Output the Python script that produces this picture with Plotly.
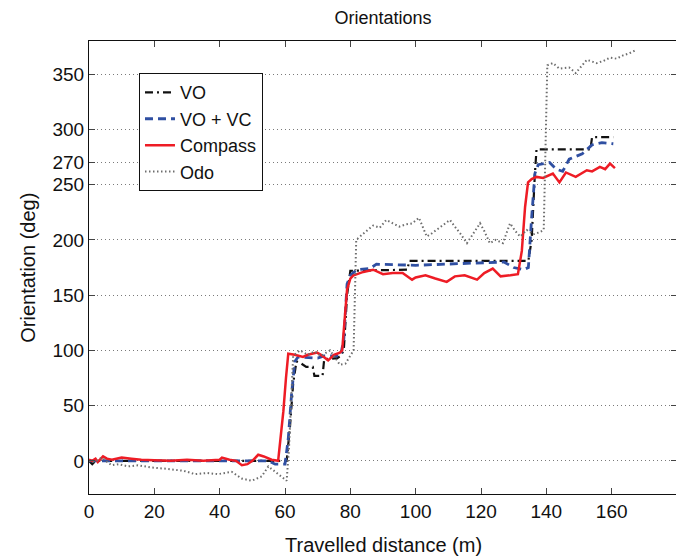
import plotly.graph_objects as go

# ---- data ----
vo_x = [0, 1, 2, 59, 60.5, 61.5, 62.5, 63.5, 65, 66.5, 68.5, 69, 71.5, 72, 76, 77, 78, 79, 80,
        97.5, 98, 134.5, 135.5, 136.5, 137, 153, 153.5, 154, 160.5]
vo_y = [0, -3, 0, 0, 0, 30, 70, 90, 88, 85, 85, 77, 77, 92, 93, 95, 100, 150, 172,
        173, 181, 181, 200, 260, 282, 282, 282, 293, 293]

vc_x = [0, 55, 57, 60, 61, 62, 63, 64, 70, 72, 77, 78, 79, 80, 82, 86, 88, 100, 127, 130, 133,
        134.5, 135.5, 136.5, 137.5, 141, 143, 145, 147, 151, 154, 157, 160.5]
vc_y = [0, 0, -3, -3, 20, 60, 90, 94, 93, 95, 95, 110, 160, 168, 173, 174, 178, 177, 180, 175, 173,
        175, 220, 260, 268, 270, 264, 262, 273, 278, 286, 288, 287]

compass_x = [0, 1, 2, 2.7, 4.3, 5.5, 7, 10, 13, 16, 20, 25, 30, 35, 40, 40.7, 43, 45, 46.8, 48.5,
             50, 51.8, 53.5, 55.9, 57.9, 58.5, 59.5, 60.3, 61, 63, 65.5, 67, 69.8, 71, 73.2, 75,
             76.8, 77.5, 78.2, 79, 80, 81, 84, 87, 90, 93, 96, 98.9, 100, 103, 106, 109.5, 112,
             115, 118.8, 121, 123.6, 126, 129, 131.3, 132.5, 133.5, 134.4, 135.5, 137, 139, 142,
             144, 146, 149, 152.4, 154, 156.4, 158, 159.5, 161]
compass_y = [1, 0, 2, -1, 4, 2, 1, 3, 2, 1, 0.5, 0, 1, 0, 1, 3, 1, 0, -4, -3,
             0, 5.5, 4, 1, 0, 15, 45, 75, 97, 96, 94, 96, 98, 96, 91, 96,
             98, 100, 130, 155, 165, 168, 171, 173, 169, 170, 170, 164, 166, 168, 165, 162, 167,
             168, 164, 170, 174, 167, 168, 169, 190, 230, 252, 255, 257, 256, 260,
             252, 261, 257, 263, 262, 266, 264, 269, 265]

odo_x = [0, 1.8, 3.9, 6.9, 9, 12, 15, 19, 23, 26.3, 29, 32.4, 36, 39.5, 43.7, 46.7, 49.8, 52.9,
         54.9, 57.9, 60.5, 61.2, 62, 62.5, 64.6, 67, 69, 71, 73.8, 75.5, 76.8, 78.5, 80, 81,
         81.4, 81.8, 84.5, 87, 89, 91, 93, 95, 97, 99, 101, 103.4, 105, 107.4, 110.5, 112,
         113.6, 115.7, 117.5, 119.7, 121, 122.7, 124.5, 126.7, 128.9, 130.5, 132, 134, 136,
         138, 139.2, 139.8, 140.3, 142, 144, 147, 149, 152.4, 155.4, 157.5, 159.5, 161.5,
         163.5, 165.5, 167.6]
odo_y = [0, -1, 3, -4, -3, -5, -4, -6, -7, -8, -9, -12, -11, -12, -10, -16, -18, -14,
         -5, -12, -18, 10, 60, 95, 100, 96, 99, 95, 100, 92, 87, 88, 96, 100,
         150, 200, 207, 213, 211, 218, 215, 212, 214, 215, 220, 203, 206, 211, 218, 212,
         206, 197, 205, 215, 208, 197, 200, 197, 215, 208, 203, 209, 205,
         207, 209, 280, 358, 360, 355, 356, 351, 363, 360, 362, 365, 364,
         367, 369, 372]

x_ticks = [0, 20, 40, 60, 80, 100, 120, 140, 160]
y_ticks = [0, 50, 100, 150, 200, 250, 270, 300, 350]

FONT = "Liberation Sans, Arial, Helvetica, sans-serif"

fig = go.Figure()
fig.add_trace(go.Scatter(x=vo_x, y=vo_y, mode="lines", name="VO",
                         line=dict(color="#111111", width=2.2, dash="8px,4px,2px,4px")))
fig.add_trace(go.Scatter(x=vc_x, y=vc_y, mode="lines", name="VO + VC",
                         line=dict(color="#2f4fa2", width=2.8, dash="8px,5px")))
fig.add_trace(go.Scatter(x=compass_x, y=compass_y, mode="lines", name="Compass",
                         line=dict(color="#ee1c25", width=2.5)))
fig.add_trace(go.Scatter(x=odo_x, y=odo_y, mode="lines", name="Odo",
                         line=dict(color="#6e6e6e", width=2, dash="1.5px,2.5px")))

# page body has an 8px margin, so the figure is sized/offset to compensate
fig.update_layout(
    width=676, height=550,
    margin=dict(l=81, r=7, t=33, b=64),
    paper_bgcolor="white", plot_bgcolor="white",
    font=dict(family=FONT, color="#111111", size=19),
    title=dict(text="Orientations", x=0.5, xref="paper", y=0.982, yanchor="middle",
               xanchor="center", font=dict(size=18)),
    showlegend=True,
    legend=dict(x=0.085, y=0.929, xanchor="left", yanchor="top",
                bgcolor="white", bordercolor="#111111", borderwidth=1,
                font=dict(size=18), tracegroupgap=0),
    annotations=[
        dict(text="Orientation (deg)", textangle=-90, xref="paper", yref="paper",
             x=-0.105, y=0.5, xanchor="center", yanchor="middle", showarrow=False,
             font=dict(size=20)),
        dict(text="Travelled distance (m)", xref="paper", yref="paper",
             x=0.5, y=-0.113, xanchor="center", yanchor="middle", showarrow=False,
             font=dict(size=20)),
    ],
)
fig.update_xaxes(range=[0, 180], tickvals=x_ticks, ticks="inside", ticklen=6,
                 showline=True, linecolor="#111111", linewidth=1, mirror="ticks",
                 showgrid=False, zeroline=False, tickfont=dict(size=19))
fig.update_yaxes(range=[-30, 380], tickvals=y_ticks, ticks="inside", ticklen=6,
                 showline=True, linecolor="#111111", linewidth=1, mirror="ticks",
                 showgrid=True, gridcolor="#7a7a7a", griddash="1px,3px", gridwidth=1,
                 zeroline=False, tickfont=dict(size=19))

fig.write_html("out.html")
